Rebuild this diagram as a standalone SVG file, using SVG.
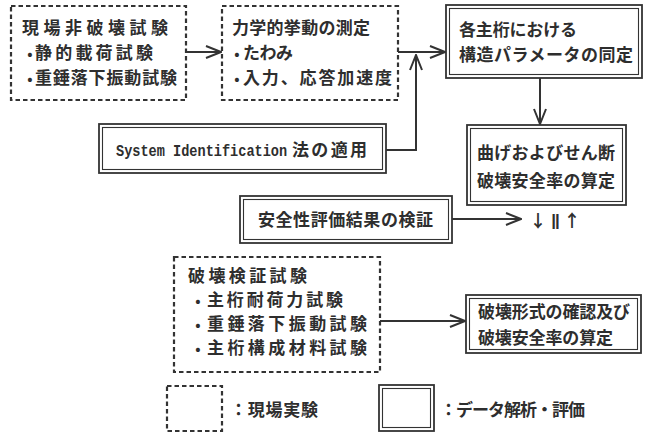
<svg xmlns="http://www.w3.org/2000/svg" width="647" height="436" viewBox="0 0 647 436">
<style>
.dash{fill:none;stroke:#333;stroke-width:2.2;stroke-dasharray:4.5 3}
.out{fill:none;stroke:#333;stroke-width:1.8}
.in{fill:none;stroke:#333;stroke-width:1.1}
.t{font-family:"Noto Sans CJK JP",sans-serif;font-size:17px;font-weight:bold;fill:#2e2e2e}
.m{font-family:"Liberation Mono","Noto Sans CJK JP",monospace;font-size:16px;font-weight:bold;fill:#2e2e2e}
.b{font-family:"Noto Sans CJK JP",sans-serif;font-size:14px;font-weight:bold;fill:#2e2e2e;text-anchor:middle}
.c{fill:none;stroke:#333;stroke-width:2}
</style>
<defs>
<marker id="ah" viewBox="0 0 17 14" refX="16" refY="7" markerWidth="17" markerHeight="14" markerUnits="userSpaceOnUse" orient="auto">
<path d="M1,1 L16,7 L1,13" fill="none" stroke="#333" stroke-width="2"/>
</marker>
</defs>
<rect width="647" height="436" fill="#fff"/>

<g id="connectors">
<path class="c" d="M186,52 H221" marker-end="url(#ah)"/>
<path class="c" d="M398,52 H445" marker-end="url(#ah)"/>
<path class="c" d="M386,150 H416 V55" marker-end="url(#ah)"/>
<path class="c" d="M540,78 V124" marker-end="url(#ah)"/>
<path class="c" d="M452,219 H521" marker-end="url(#ah)"/>
<path class="c" d="M380,321 H465" marker-end="url(#ah)"/>
</g>

<g id="n1">
<rect class="dash" x="11" y="6" width="175" height="94"/>
<text class="t" x="22" y="34" textLength="146" lengthAdjust="spacing">現場非破壊試験</text>
<text class="b" x="30" y="59">•</text>
<text class="t" x="35" y="59" textLength="118" lengthAdjust="spacing">静的載荷試験</text>
<text class="b" x="30" y="84">•</text>
<text class="t" x="35" y="84" textLength="142" lengthAdjust="spacing">重錘落下振動試験</text>
</g>

<g id="n2">
<rect class="dash" x="222" y="6" width="176" height="94"/>
<text class="t" x="232" y="34" textLength="138" lengthAdjust="spacing">力学的挙動の測定</text>
<text class="b" x="237" y="59">•</text>
<text class="t" x="243" y="59" textLength="50" lengthAdjust="spacing">たわみ</text>
<text class="b" x="237" y="84">•</text>
<text class="t" x="243" y="84" textLength="149" lengthAdjust="spacing">入力、応答加速度</text>
</g>

<g id="n3">
<rect class="out" x="446" y="5" width="196" height="73"/>
<rect class="in" x="449.5" y="8.5" width="189" height="66"/>
<text class="t" x="459" y="36" textLength="118" lengthAdjust="spacing">各主桁における</text>
<text class="t" x="459" y="61" textLength="174" lengthAdjust="spacing">構造パラメータの同定</text>
</g>

<g id="n4">
<rect class="out" x="467" y="125" width="159" height="80"/>
<rect class="in" x="470.5" y="128.5" width="152" height="73"/>
<text class="t" x="477" y="159" textLength="138" lengthAdjust="spacing">曲げおよびせん断</text>
<text class="t" x="477" y="187" textLength="138" lengthAdjust="spacing">破壊安全率の算定</text>
</g>

<g id="n5">
<rect class="out" x="99" y="124" width="287" height="49"/>
<rect class="in" x="102.5" y="127.5" width="280" height="42"/>
<text class="m" transform="translate(116,156) scale(0.85,1)" x="0" y="0">System Identification</text>
<text class="t" x="292" y="156" textLength="75" lengthAdjust="spacing">法の適用</text>
</g>

<g id="n6">
<rect class="out" x="240" y="196" width="212" height="47"/>
<rect class="in" x="243.5" y="199.5" width="205" height="40"/>
<text class="t" x="258" y="226" textLength="175" lengthAdjust="spacing">安全性評価結果の検証</text>
</g>

<g id="n7">
<text class="t" x="538" y="227" text-anchor="middle">↓</text>
<text class="t" x="555" y="226" text-anchor="middle" style="font-family:'Liberation Sans',sans-serif;letter-spacing:-1px">||</text>
<text class="t" x="572" y="227" text-anchor="middle">↑</text>
</g>

<g id="n8">
<rect class="dash" x="174" y="257" width="206" height="115"/>
<text class="t" x="188" y="282" textLength="119" lengthAdjust="spacing">破壊検証試験</text>
<text class="b" x="198" y="306">•</text>
<text class="t" x="207" y="306" textLength="136" lengthAdjust="spacing">主桁耐荷力試験</text>
<text class="b" x="198" y="330">•</text>
<text class="t" x="207" y="330" textLength="160" lengthAdjust="spacing">重錘落下振動試験</text>
<text class="b" x="198" y="354">•</text>
<text class="t" x="207" y="354" textLength="160" lengthAdjust="spacing">主桁構成材料試験</text>
</g>

<g id="n9">
<rect class="out" x="466" y="295" width="175" height="58"/>
<rect class="in" x="469.5" y="298.5" width="168" height="51"/>
<text class="t" x="478" y="318" textLength="152" lengthAdjust="spacing">破壊形式の確認及び</text>
<text class="t" x="478" y="344" textLength="135" lengthAdjust="spacing">破壊安全率の算定</text>
</g>

<g id="legend">
<rect class="dash" x="167" y="386" width="55" height="45"/>
<text class="t" x="230" y="416" textLength="88" lengthAdjust="spacing">：現場実験</text>
<rect class="out" x="379" y="385" width="55" height="46"/>
<rect class="in" x="382.5" y="388.5" width="48" height="39"/>
<text class="t" x="440" y="416" textLength="145" lengthAdjust="spacing">：データ解析・評価</text>
</g>
</svg>
